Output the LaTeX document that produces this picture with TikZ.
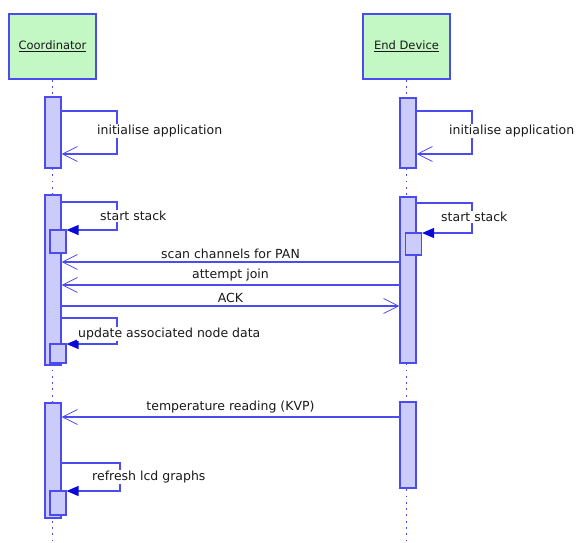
\documentclass[tikz,border=0pt]{standalone}
\usepackage{fontspec}
\setmainfont{DejaVu Sans}
\usepackage{xcolor}
\usepackage{tikz}
\usetikzlibrary{arrows.meta}
\definecolor{sq_blue}{RGB}{75,75,240}
\definecolor{sq_dark}{RGB}{10,10,215}
\definecolor{sq_green}{RGB}{195,247,195}
\definecolor{sq_lilac}{RGB}{204,204,250}
\tikzset{
  lbl/.style = {font=\fontsize{12.5}{14}\selectfont, text=black!90, inner sep=1pt},
  ll_head/.style = {draw=sq_blue, fill=sq_green, line width=1.4pt, minimum width=87pt, minimum height=65pt,
    inner sep=0pt, font=\fontsize{11.5}{14}\selectfont, text=black!90},% lifeline head
  ll_line/.style = {sq_blue, line width=1.8pt, dash pattern=on 1.8pt off 4.5pt},% lifeline
  ll_act/.style = {draw=sq_blue, fill=sq_lilac, line width=1.1pt, minimum width=16pt, inner sep=0pt},% activation
  msg/.style = {draw=sq_blue, line width=1.2pt},% message
  msg_open/.style = {msg, -{Straight Barb[length=15pt,width=15pt,line width=0.8pt]}},
  msg_fill/.style = {msg, -{Triangle[length=12pt,width=10pt,color=sq_dark]}},
  msg_lbl/.style = {lbl, fill=white}
}
\begin{document}
\begin{tikzpicture}[x=1pt,y=-1pt]
\useasboundingbox (0,0) rectangle (577,542);
\node [ll_head] (coord) at (52.5,46.5) {\underline{Coordinator}};
\node [ll_head] (enddev) at (406.5,46.5) {\underline{End Device}};
\draw [ll_line] (coord.south) -- (coord.south |- 0,540);
\draw [ll_line] (enddev.south) -- (enddev.south |- 0,540);

% activations
\node [ll_act, minimum height=71pt] (c_a1) at (53,132.5) {};
\node [ll_act, minimum height=170pt] (c_a2) at (53,280) {};
\node [ll_act, minimum height=23pt] (c_n1) at (58,241.5) {};
\node [ll_act, minimum height=19pt] (c_n2) at (58,353.5) {};
\node [ll_act, minimum height=115pt] (c_a3) at (53,460.5) {};
\node [ll_act, minimum height=24pt] (c_n3) at (58,503) {};
\node [ll_act, minimum height=70pt] (e_a1) at (408,133) {};
\node [ll_act, minimum height=166pt] (e_a2) at (408,280) {};
\node [ll_act, minimum height=22pt] (e_n1) at (413.5,244) {};
\node [ll_act, minimum height=86pt] (e_a3) at (408,445) {};

% self messages
\draw [msg_open] (c_a1.east |- 0,111) -| (117,154) -- (c_a1.east |- 0,154);
\node [msg_lbl, anchor=west] (c_init) at (96,131) {initialise application};
\draw [msg_open] (e_a1.east |- 0,111) -| (472,154) -- (e_a1.east |- 0,154);
\node [msg_lbl, anchor=west] (e_init) at (448,131) {initialise application};
\draw [msg_fill] (c_a2.east |- 0,202) -| (117,230) -- (c_n1.east |- 0,230);
\node [msg_lbl, anchor=west] (c_stack) at (99,216) {start stack};
\draw [msg_fill] (e_a2.east |- 0,203) -| (472,233) -- (e_n1.east |- 0,233);
\node [msg_lbl, anchor=west] (e_stack) at (440,217) {start stack};
\draw [msg_fill] (c_a2.east |- 0,318) -| (117,344) -- (c_n2.east |- 0,344);
\node [msg_lbl, anchor=west] (c_update) at (77,334) {update associated node data};
\draw [msg_fill] (c_a3.east |- 0,463) -| (120,491) -- (c_n3.east |- 0,491);
\node [msg_lbl, anchor=west] (c_lcd) at (91,477) {refresh lcd graphs};

% messages between lifelines
\draw [msg_open] (e_a2.west |- 0,262) -- node [lbl, above=2pt] (scan) {scan channels for PAN} (c_a2.east |- 0,262);
\draw [msg_open] (e_a2.west |- 0,285) -- node [lbl, above=2pt] (join) {attempt join} (c_a2.east |- 0,285);
\draw [msg_open] (c_a2.east |- 0,306) -- node [lbl, above=2pt] (ack) {ACK} (e_a2.west |- 0,306);
\draw [msg_open] (e_a3.west |- 0,417) -- node [lbl, above=2pt] (temp) {temperature reading (KVP)} (c_a3.east |- 0,417);
\end{tikzpicture}
\end{document}
